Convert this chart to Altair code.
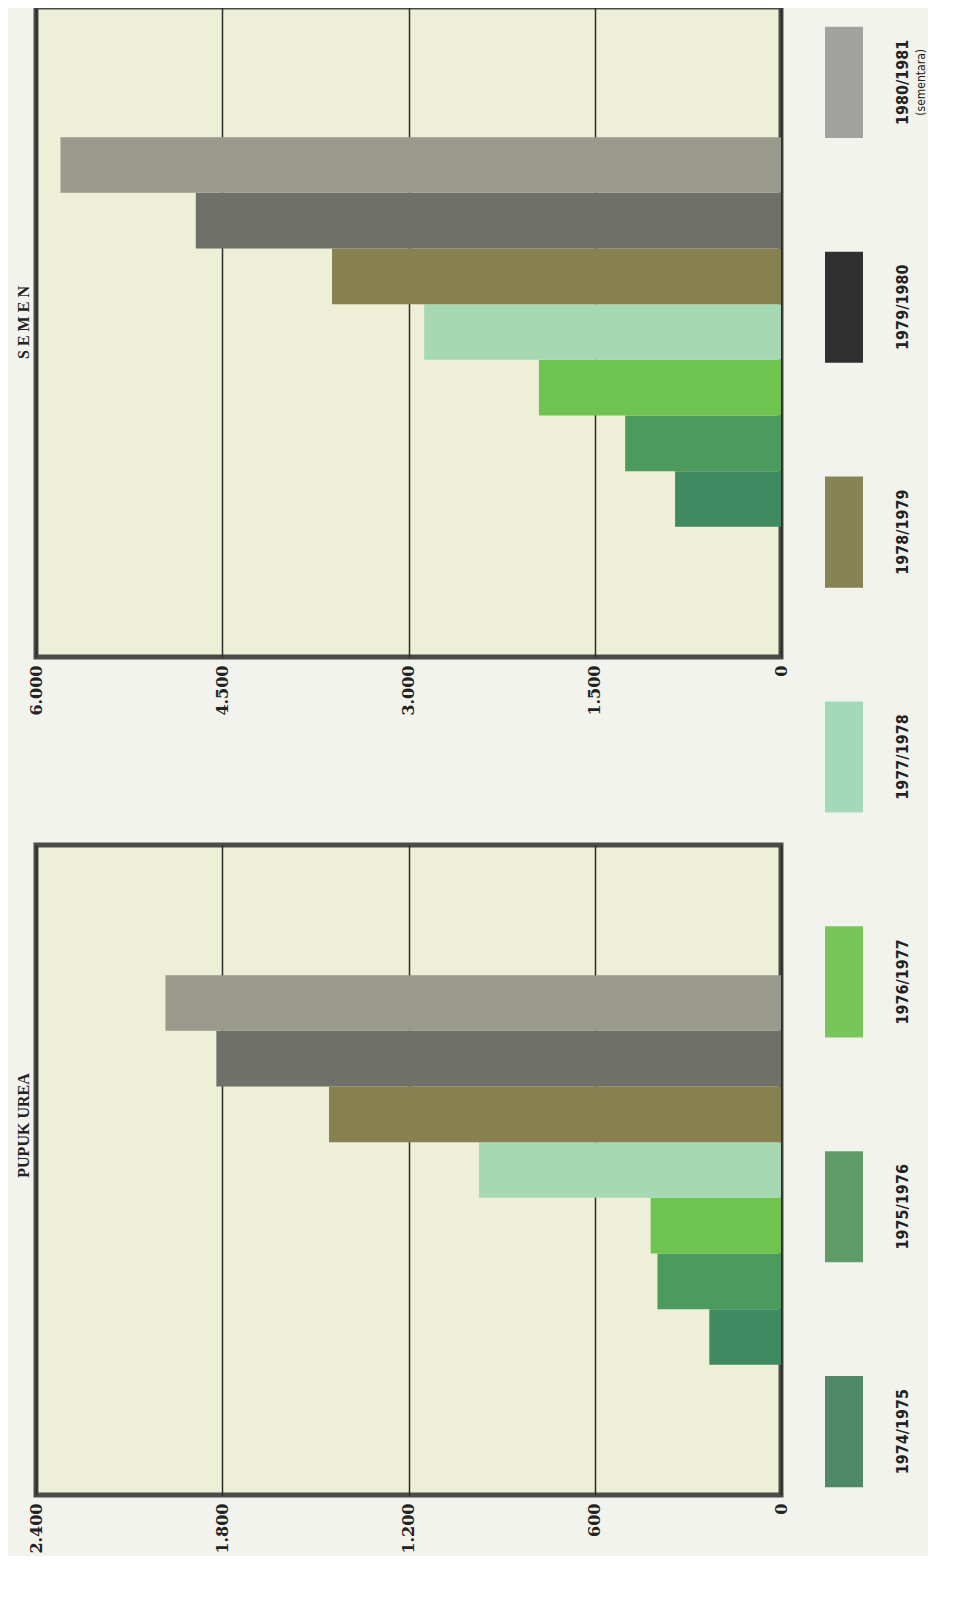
import altair as alt
import pandas as pd

# ---- data ----
periods = ["1974/1975", "1975/1976", "1976/1977", "1977/1978", "1978/1979", "1979/1980", "1980/1981"]
legend_notes = ["", "", "", "", "", "", "(sementara)"]
urea_values = [231, 398, 420, 973, 1456, 1819, 1983]
semen_values = [853, 1255, 1950, 2874, 3616, 4713, 5803]

urea_ticks = [0, 600, 1200, 1800, 2400]
urea_tick_labels = ["0", "600", "1.200", "1.800", "2.400"]
semen_ticks = [0, 1500, 3000, 4500, 6000]
semen_tick_labels = ["0", "1.500", "3.000", "4.500", "6.000"]

bar_colors = ["#3f8a60", "#4d9a5f", "#6ec44e", "#a6d9b2", "#87814f", "#6f7068", "#999a8c"]
legend_colors = ["#4e8866", "#609c6a", "#78c65a", "#a3d9b6", "#888354", "#303030", "#a2a29e"]

order_top_down = periods[::-1]
# empty slots above and below the bars inside each panel
pad_top = ["\u2009", "\u2009\u2009"]
pad_bottom = ["\u2009\u2009\u2009", "\u2009\u2009\u2009\u2009"]

df = pd.DataFrame({"periode": periods, "urea": urea_values, "semen": semen_values})
leg_df = pd.DataFrame({"periode": periods, "note": legend_notes, "swatch": legend_colors})

TICK_FONT = "DejaVu Serif"
TITLE_FONT = "Liberation Serif"
LEG_FONT = "DejaVu Sans Condensed, Liberation Sans Narrow, sans-serif"
INK = "#222222"


def label_expr(vals, labs):
    parts = [f"datum.value == {v} ? '{l}'" for v, l in zip(vals, labs)]
    return " : ".join(parts) + " : ''"


def panel(field, title, ticks, labels, title_y):
    return alt.Chart(df).mark_bar().encode(
        x=alt.X(
            f"{field}:Q",
            scale=alt.Scale(domain=[0, ticks[-1]], reverse=True, nice=False, zero=True),
            axis=alt.Axis(
                values=ticks, labelExpr=label_expr(ticks, labels), title=None,
                grid=True, gridColor="#2a2a2a", gridWidth=1.5,
                ticks=False, domain=False, labelAngle=270, labelPadding=8,
                labelFont=TICK_FONT, labelFontSize=16, labelFontWeight="bold",
                labelColor=INK,
            ),
        ),
        y=alt.Y(
            "periode:N",
            scale=alt.Scale(domain=pad_top + order_top_down + pad_bottom,
                            paddingInner=0, paddingOuter=0.34),
            axis=alt.Axis(
                labels=False, ticks=False, domain=False, grid=False,
                title=title, titleAngle=270, titlePadding=5, titleY=title_y,
                titleFont=TITLE_FONT, titleFontSize=16, titleFontWeight="bold",
                titleColor=INK,
            ),
        ),
        color=alt.Color("periode:N", scale=alt.Scale(domain=periods, range=bar_colors), legend=None),
    ).properties(
        width=745, height=650,
        view=alt.ViewBackground(fill="#eeefd7", stroke="#4a4a48", strokeWidth=5),
    )


semen_panel = panel("semen", "S E M E N", semen_ticks, semen_tick_labels, 315)
urea_panel = panel("urea", "PUPUK UREA", urea_ticks, urea_tick_labels, 280)

leg_y = alt.Y("periode:N", sort=order_top_down,
              scale=alt.Scale(paddingInner=0.506, paddingOuter=0.088), axis=None)

swatch = alt.Chart(leg_df).mark_rect().encode(
    x=alt.value(24), x2=alt.value(62), y=leg_y,
    color=alt.Color("swatch:N", scale=None),
)
leg_text = alt.Chart(leg_df).mark_text(
    angle=270, font=LEG_FONT, fontSize=16, fontWeight="bold", color=INK
).encode(x=alt.value(102), y=leg_y, text="periode:N")
leg_note = alt.Chart(leg_df).mark_text(
    angle=270, font=LEG_FONT, fontSize=12, color=INK
).encode(x=alt.value(120), y=leg_y, text="note:N")

legend = alt.layer(swatch, leg_text, leg_note).properties(
    width=112, height=1500,
    view=alt.ViewBackground(fill="transparent", stroke="transparent"),
)

chart = alt.hconcat(
    alt.vconcat(semen_panel, urea_panel, spacing=124),
    legend,
    spacing=8,
).properties(
    background="#f3f3ee",
    padding={"left": 4, "top": -4, "right": 0, "bottom": 0},
)

chart.save("out.html", embed_options={"renderer": "svg", "actions": False})
